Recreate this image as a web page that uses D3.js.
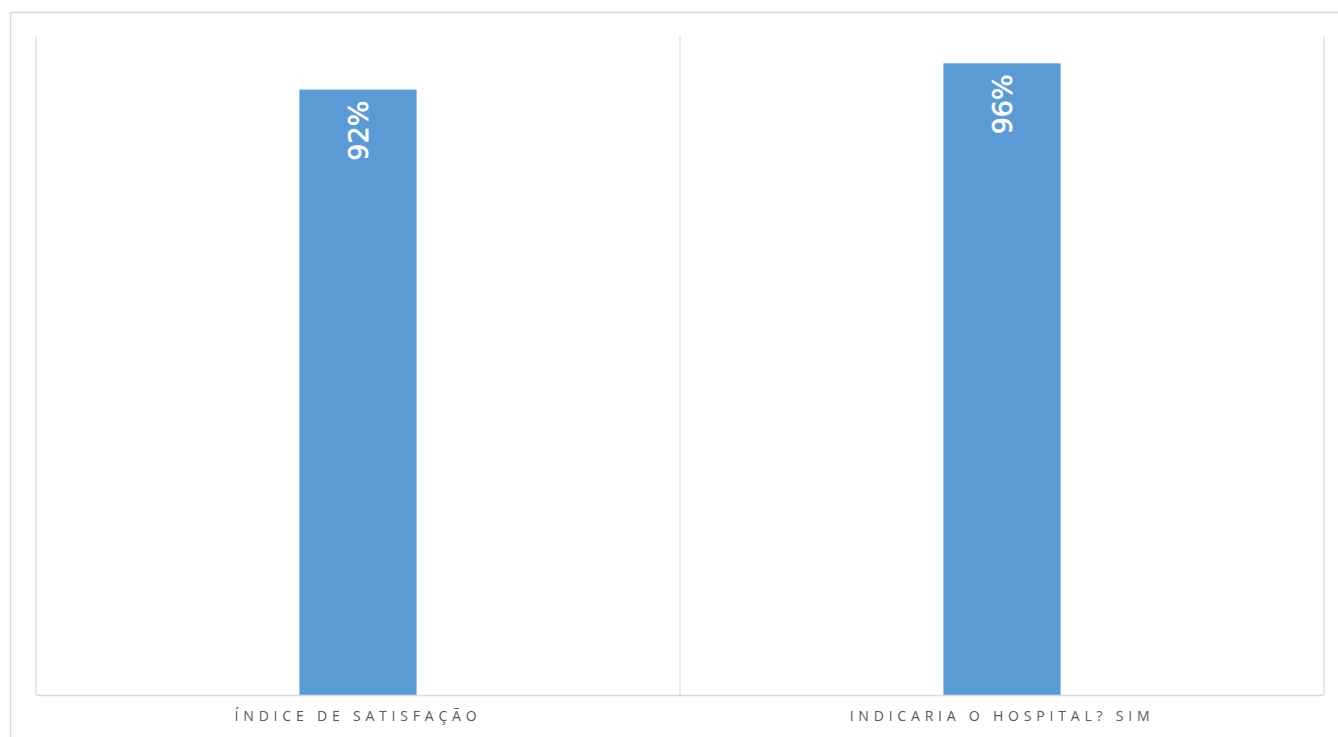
<!DOCTYPE html>
<html>
<head>
<meta charset="utf-8">
<script src="https://cdn.jsdelivr.net/npm/d3@7"></script>
<style>
  body { margin: 0; background: #fff; }
  svg { display: block; }
</style>
</head>
<body>
<svg id="chart" width="1338" height="737"></svg>
<script>
// chart data
const categories = ['ÍNDICE DE SATISFAÇÃO', 'INDICARIA O HOSPITAL? SIM'];
const values = [0.92, 0.96];
const valueLabels = ['92%', '96%'];

const svg = d3.select('#chart');
const width = 1338, height = 737;
const margin = { top: 37, right: 14, bottom: 42, left: 36 };

// outer chart border (only top and left visible)
svg.append('path')
  .attr('d', `M10.5,${height} V12.5 H${width}`)
  .attr('fill', 'none')
  .attr('stroke', '#d9d9d9')
  .attr('stroke-width', 1.5);

const x = d3.scaleBand()
  .domain(categories)
  .range([margin.left, width - margin.right])
  .paddingInner(0.818)
  .paddingOuter(0.409);

const y = d3.scaleLinear()
  .domain([0, 1])
  .range([height - margin.bottom, margin.top]);

const step = x.step();

// vertical category separators
const bounds = d3.range(categories.length + 1).map(i => margin.left + i * step);
svg.selectAll('.sep')
  .data(bounds)
  .enter()
  .append('line')
  .attr('class', 'sep')
  .attr('x1', d => d).attr('x2', d => d)
  .attr('y1', y(1)).attr('y2', y(0))
  .attr('stroke', '#d9d9d9')
  .attr('stroke-width', 1.2);

// bars
svg.selectAll('.bar')
  .data(values)
  .enter()
  .append('rect')
  .attr('class', 'bar')
  .attr('x', (d, i) => x(categories[i]))
  .attr('y', d => y(d))
  .attr('width', x.bandwidth())
  .attr('height', d => y(0) - y(d))
  .attr('fill', '#5b9bd5');

// value labels, rotated inside top of bar
svg.selectAll('.val')
  .data(values)
  .enter()
  .append('text')
  .attr('class', 'val')
  .attr('transform', (d, i) => {
    const cx = x(categories[i]) + x.bandwidth() / 2;
    return `translate(${cx},${y(d) + 11}) rotate(-90)`;
  })
  .attr('text-anchor', 'end')
  .attr('dy', '0.36em')
  .attr('fill', '#fff')
  .style('font-family', '"DejaVu Sans", sans-serif')
  .style('font-size', '27px')
  .style('stroke', '#fff')
  .style('stroke-width', '0.6px')
  .text((d, i) => valueLabels[i]);

// x axis
const xAxis = svg.append('g')
  .attr('transform', `translate(0,${y(0)})`)
  .call(d3.axisBottom(x).tickSize(0).tickPadding(16));

xAxis.select('.domain')
  .attr('stroke', '#d9d9d9')
  .attr('stroke-width', 1.5)
  .attr('d', `M${margin.left},0.5H${width - margin.right}`);

xAxis.selectAll('text')
  .attr('fill', '#595959')
  .style('font-family', '"Open Sans", sans-serif')
  .style('font-size', '14px')
  .style('letter-spacing', '4.8px');
</script>
</body>
</html>
